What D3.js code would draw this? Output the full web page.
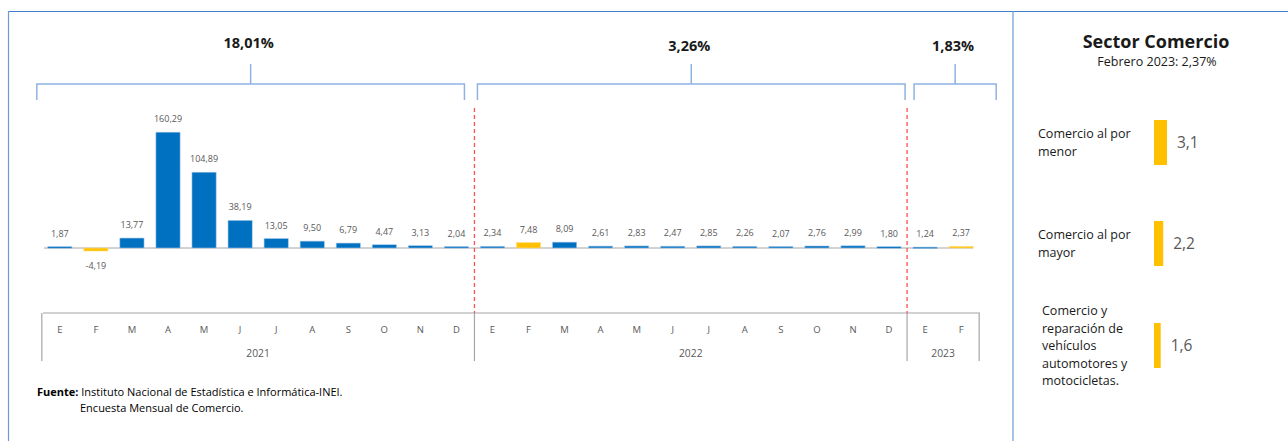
<!DOCTYPE html>
<html>
<head>
<meta charset="utf-8">
<script src="https://cdn.jsdelivr.net/npm/d3@7"></script>
<style>
  body { margin: 0; background: #fff; }
  svg { font-family: "Open Sans", Lato, sans-serif; }
</style>
</head>
<body>
<div id="chart"></div>
<script>
// monthly data (variación % interanual)
var months = ['E','F','M','A','M','J','J','A','S','O','N','D',
              'E','F','M','A','M','J','J','A','S','O','N','D',
              'E','F'];
var years = ['2021','2021','2021','2021','2021','2021','2021','2021','2021','2021','2021','2021',
             '2022','2022','2022','2022','2022','2022','2022','2022','2022','2022','2022','2022',
             '2023','2023'];
var values = [1.87, -4.19, 13.77, 160.29, 104.89, 38.19, 13.05, 9.50, 6.79, 4.47, 3.13, 2.04,
              2.34, 7.48, 8.09, 2.61, 2.83, 2.47, 2.85, 2.26, 2.07, 2.76, 2.99, 1.80,
              1.24, 2.37];
var yearLabels = ['2021', '2022', '2023'];
var yearTotals = ['18,01%', '3,26%', '1,83%'];

// right panel
var sectorTitle = 'Sector Comercio';
var sectorSub = 'Febrero 2023: 2,37%';
var subsectors = [
  ['Comercio al por', 'menor'],
  ['Comercio al por', 'mayor'],
  ['Comercio y', 'reparación de', 'vehículos', 'automotores y', 'motocicletas.']
];
var subValues = [3.1, 2.2, 1.6];

var fmt = function(v) { return v.toFixed(2).replace('.', ','); };
var fmt1 = function(v) { return v.toFixed(1).replace('.', ','); };

var W = 1288, H = 441;
var blue = '#0070C0', yellow = '#FFC000', grey = '#595959', frame = '#3F7FC6';

var svg = d3.select('#chart').append('svg')
    .attr('width', W).attr('height', H);

// frame
svg.append('line').attr('x1', 8).attr('x2', W).attr('y1', 11.5).attr('y2', 11.5)
    .attr('stroke', frame).attr('stroke-width', 1.2);
svg.append('line').attr('x1', 8.5).attr('x2', 8.5).attr('y1', 11).attr('y2', H)
    .attr('stroke', '#6A9BD3').attr('stroke-width', 1.2);
svg.append('line').attr('x1', 1013).attr('x2', 1013).attr('y1', 11).attr('y2', H)
    .attr('stroke', '#6A9BD3').attr('stroke-width', 1.2);

// scales
var idx = d3.range(values.length);
var x = d3.scaleBand().domain(idx).range([42, 979]).paddingInner(0.33).paddingOuter(0.16);
var y = d3.scaleLinear().domain([-20, 180]).range([262.45, 117.95]);
var step = x.step();
var left = function(i) { return x(i) + x.bandwidth() / 2 - step / 2; };

// zero line
svg.append('line').attr('x1', 44).attr('x2', 973).attr('y1', y(0)).attr('y2', y(0))
    .attr('stroke', '#A6A6A6').attr('stroke-width', 1.2);

// bars
svg.append('g').selectAll('rect').data(idx).enter().append('rect')
    .attr('x', function(i) { return x(i); })
    .attr('width', x.bandwidth())
    .attr('y', function(i) { return y(Math.max(0, values[i])); })
    .attr('height', function(i) { return Math.max(1.5, Math.abs(y(values[i]) - y(0))); })
    .attr('fill', function(i) { return months[i] === 'F' ? yellow : blue; })
    .attr('stroke', function(i) { return months[i] === 'F' ? '#FFE08A' : '#9DC3E6'; })
    .attr('stroke-width', 0.6);

// value labels
svg.append('g').selectAll('text').data(idx).enter().append('text')
    .attr('x', function(i) { return x(i) + x.bandwidth() / 2; })
    .attr('y', function(i) { return values[i] >= 0 ? y(values[i]) - 10 : y(values[i]) + 18; })
    .attr('text-anchor', 'middle')
    .attr('font-size', 9).attr('fill', grey)
    .text(function(i) { return fmt(values[i]); });

// year groups
var groups = yearLabels.map(function(yr) {
  var ids = idx.filter(function(i) { return years[i] === yr; });
  return { year: yr, first: ids[0], last: ids[ids.length - 1] };
});
var bounds = groups.map(function(g) {
  return [left(g.first), left(g.last) + step];
});

// category axis
var axisTop = 313, axisBottom = 361;
svg.append('line').attr('x1', 43).attr('x2', 980).attr('y1', axisTop).attr('y2', axisTop)
    .attr('stroke', '#A6A6A6').attr('stroke-width', 1.2);
var seps = [bounds[0][0]].concat(bounds.map(function(b) { return b[1]; }));
svg.append('g').selectAll('line').data(seps).enter().append('line')
    .attr('x1', function(d) { return d; }).attr('x2', function(d) { return d; })
    .attr('y1', axisTop).attr('y2', axisBottom)
    .attr('stroke', '#A6A6A6').attr('stroke-width', 1.2);
svg.append('g').selectAll('text').data(idx).enter().append('text')
    .attr('x', function(i) { return x(i) + x.bandwidth() / 2; })
    .attr('y', 333)
    .attr('text-anchor', 'middle').attr('font-size', 9.5).attr('fill', grey)
    .text(function(i) { return months[i]; });
svg.append('g').selectAll('text').data(groups).enter().append('text')
    .attr('x', function(g, k) { return (bounds[k][0] + bounds[k][1]) / 2; })
    .attr('y', 357)
    .attr('text-anchor', 'middle').attr('font-size', 10.3).attr('fill', grey)
    .text(function(g) { return g.year; });

// red dashed separators
svg.append('g').selectAll('line').data(bounds.slice(0, 2)).enter().append('line')
    .attr('x1', function(b) { return b[1]; }).attr('x2', function(b) { return b[1]; })
    .attr('y1', 108).attr('y2', axisTop)
    .attr('stroke', '#FF5050').attr('stroke-width', 1.3).attr('stroke-dasharray', '4,3');

// brackets with period totals
var bracketPad = [[-5, -10], [3, -2], [7, 17]];
var bracketY = 84, bracketDrop = 100;
groups.forEach(function(g, k) {
  var x0 = bounds[k][0] + bracketPad[k][0], x1 = bounds[k][1] + bracketPad[k][1];
  var xm = (x0 + x1) / 2;
  svg.append('path')
      .attr('d', 'M' + x0 + ',' + bracketDrop + 'V' + bracketY + 'H' + x1 + 'V' + bracketDrop +
                 'M' + xm + ',' + bracketY + 'V64')
      .attr('fill', 'none').attr('stroke', '#8DB3E2').attr('stroke-width', 1.5);
  svg.append('text').attr('x', xm - 2).attr('y', k === 0 ? 48 : 51)
      .attr('text-anchor', 'middle').attr('font-size', 14.5).attr('font-weight', 'bold')
      .attr('fill', '#1a1a1a').text(yearTotals[k]);
});

// source note
var note = svg.append('text').attr('x', 37).attr('y', 396).attr('font-size', 11).attr('fill', '#000');
note.append('tspan').attr('font-weight', 'bold').text('Fuente: ');
note.append('tspan').text('Instituto Nacional de Estadística e Informática-INEI.');
svg.append('text').attr('x', 80).attr('y', 412).attr('font-size', 11).attr('fill', '#000')
    .text('Encuesta Mensual de Comercio.');

// right panel
svg.append('text').attr('x', 1156).attr('y', 48).attr('text-anchor', 'middle')
    .attr('font-size', 18).attr('font-weight', 'bold').attr('fill', '#1a1a1a').text(sectorTitle);
svg.append('text').attr('x', 1157).attr('y', 66).attr('text-anchor', 'middle')
    .attr('font-size', 12.5).attr('fill', '#1a1a1a').text(sectorSub);

var rowCenters = [143, 244, 346];
var wScale = d3.scaleLinear().domain([0, 3.1]).range([0, 13]);
subsectors.forEach(function(lines, k) {
  var cy = rowCenters[k];
  var t = svg.append('text').attr('font-size', 12.5).attr('fill', '#1a1a1a');
  var y0 = cy - (lines.length - 1) * 17.5 / 2 + 4;
  lines.forEach(function(s, j) {
    t.append('tspan').attr('x', k === 2 ? 1042 : 1038).attr('y', y0 + j * 17.5).text(s);
  });
  svg.append('rect').attr('x', 1154).attr('y', cy - 23)
      .attr('width', wScale(subValues[k])).attr('height', 45).attr('fill', yellow);
  svg.append('text').attr('x', 1154 + wScale(subValues[k]) + 10).attr('y', cy + 5)
      .attr('font-size', 15.5).attr('fill', grey).text(fmt1(subValues[k]));
});
</script>
</body>
</html>
